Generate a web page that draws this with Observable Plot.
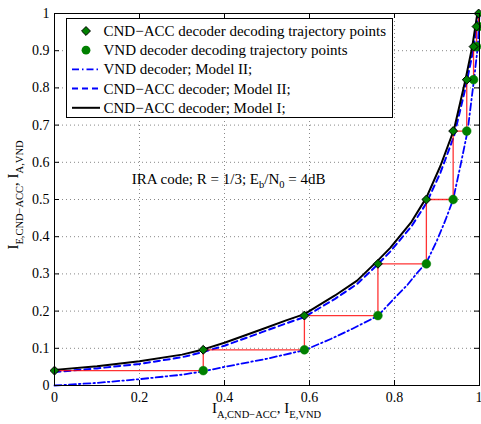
<!DOCTYPE html>
<html><head><meta charset="utf-8">
<script src="https://cdn.jsdelivr.net/npm/d3@7"></script>
<script src="https://cdn.jsdelivr.net/npm/@observablehq/plot@0.6"></script>
<style>body{margin:0;background:#fff}</style>
</head><body><div id="chart"></div>
<script>
// Tick values
const xTicks = [0, 0.2, 0.4, 0.6, 0.8, 1];
const yTicks = [0, 0.1, 0.2, 0.3, 0.4, 0.5, 0.6, 0.7, 0.8, 0.9, 1];

// Decoding trajectory: I_A,CND-ACC values and I_E,CND-ACC values per iteration
const trajIA = [0, 0.35, 0.588, 0.761, 0.875, 0.938, 0.97, 0.986, 0.993, 0.998];
const trajIE = [0.04, 0.096, 0.188, 0.327, 0.50, 0.684, 0.822, 0.911, 0.965, 1.0];

// VND decoder; Model II (dash-dot)
const vndX = [0, 0.1, 0.2, 0.3, 0.35, 0.4, 0.5, 0.588, 0.65, 0.7, 0.761, 0.8, 0.83, 0.855, 0.875, 0.9, 0.92, 0.938, 0.955, 0.972, 0.987, 0.996, 1.0];
const vndY = [0, 0.007, 0.017, 0.029, 0.038, 0.05, 0.072, 0.095, 0.125, 0.152, 0.187, 0.235, 0.27, 0.305, 0.33, 0.39, 0.445, 0.50, 0.59, 0.684, 0.822, 0.911, 1.0];

// CND-ACC decoder; Model II (dashed)
const cnd2X = [0, 0.1, 0.2, 0.3, 0.35, 0.4, 0.485, 0.545, 0.588, 0.66, 0.712, 0.76, 0.79, 0.84, 0.875, 0.908, 0.94, 0.967, 0.985, 0.998];
const cnd2Y = [0.036, 0.046, 0.058, 0.076, 0.09, 0.107, 0.142, 0.167, 0.184, 0.233, 0.273, 0.325, 0.36, 0.428, 0.49, 0.572, 0.67, 0.80, 0.90, 1.0];

// CND-ACC decoder; Model I (solid)
const cnd1X = [0, 0.1, 0.2, 0.3, 0.35, 0.4, 0.485, 0.545, 0.588, 0.66, 0.712, 0.76, 0.79, 0.84, 0.875, 0.908, 0.94, 0.967, 0.983, 0.995];
const cnd1Y = [0.042, 0.052, 0.065, 0.083, 0.097, 0.115, 0.15, 0.175, 0.192, 0.242, 0.282, 0.335, 0.37, 0.44, 0.505, 0.59, 0.688, 0.822, 0.911, 1.0];

const legendLabels = [
  "CND\u2212ACC decoder decoding trajectory points",
  "VND decoder decoding trajectory points",
  "VND decoder; Model II;",
  "CND\u2212ACC decoder; Model II;",
  "CND\u2212ACC decoder; Model I;"
];

const zip = (xs, ys) => xs.map((x, i) => ({x, y: ys[i]}));
const diamonds = zip(trajIA, trajIE);
const circles = trajIE.slice(0, -1).map((y, i) => ({x: trajIA[i + 1], y}));
const stair = [];
diamonds.forEach((d, i) => { stair.push(d); if (circles[i]) stair.push(circles[i]); });

const W = 481, H = 424, ML = 54, MR = 2, MT = 13, MB = 39;
const PW = W - ML - MR, PH = H - MT - MB;
const fmt = d => String(+d.toFixed(2));
const green = "#008000";

const plot = Plot.plot({
  width: W, height: H,
  marginLeft: ML, marginRight: MR, marginTop: MT, marginBottom: MB,
  style: {fontFamily: "'Liberation Serif', 'Times New Roman', serif", fontSize: "14px", color: "black", background: "white", overflow: "visible"},
  x: {domain: [0, 1]},
  y: {domain: [0, 1]},
  marks: [
    Plot.gridX(xTicks, {stroke: "#888", strokeOpacity: 1, strokeDasharray: "1,3"}),
    Plot.gridY(yTicks, {stroke: "#888", strokeOpacity: 1, strokeDasharray: "1,3"}),
    Plot.axisX({ticks: xTicks.slice(0, -1), tickSize: 0, tickPadding: 7, tickFormat: fmt, label: null, fontSize: 14}),
    Plot.axisX({ticks: xTicks.slice(-1), tickSize: 0, tickPadding: 7, tickFormat: fmt, label: null, fontSize: 14, textAnchor: "end", dx: 3}),
    Plot.axisY({ticks: yTicks, tickSize: 0, tickPadding: 5, tickFormat: fmt, label: null, fontSize: 14}),
    Plot.tickX(xTicks, {x: d => d, insetTop: PH - 5, stroke: "black"}),
    Plot.tickX(xTicks, {x: d => d, insetBottom: PH - 5, stroke: "black"}),
    Plot.tickY(yTicks, {y: d => d, insetRight: PW - 5, stroke: "black"}),
    Plot.tickY(yTicks, {y: d => d, insetLeft: PW - 5, stroke: "black"}),
    Plot.line(zip(vndX, vndY), {x: "x", y: "y", stroke: "#0000ff", strokeWidth: 1.8, strokeDasharray: "7,3,1.5,3", curve: "linear"}),
    Plot.line(zip(cnd2X, cnd2Y), {x: "x", y: "y", stroke: "#0000ff", strokeWidth: 2, strokeDasharray: "6,4", curve: "linear"}),
    Plot.line(zip(cnd1X, cnd1Y), {x: "x", y: "y", stroke: "black", strokeWidth: 2, curve: "linear"}),
    Plot.line(stair, {x: "x", y: "y", stroke: "#ff0000", strokeOpacity: 0.8, strokeWidth: 1.3, curve: "linear"}),
    Plot.dot(circles, {x: "x", y: "y", r: 4.4, fill: green, stroke: green, strokeWidth: 0.5}),
    Plot.dot(diamonds, {x: "x", y: "y", r: 4, symbol: "diamond2", fill: green, stroke: "black", strokeWidth: 1}),
    Plot.frame({stroke: "black", strokeWidth: 1})
  ]
});

const svg = d3.select(plot);
const sx = plot.scale("x"), sy = plot.scale("y");
const serif = "'Liberation Serif', 'Times New Roman', serif";

// Annotation
const ann = svg.append("text")
  .attr("x", sx.apply(0.183)).attr("y", sy.apply(0.54)).attr("text-anchor", "start")
  .attr("font-family", serif).attr("font-size", 15).attr("fill", "black");
ann.append("tspan").text("IRA code; R = 1/3; E");
ann.append("tspan").attr("font-size", 10.5).attr("dy", 4).text("b");
ann.append("tspan").attr("dy", -4).text("/N");
ann.append("tspan").attr("font-size", 10.5).attr("dy", 4).text("0");
ann.append("tspan").attr("dy", -4).text(" = 4dB");

// X axis label
const xl = svg.append("text")
  .attr("x", ML + PW / 2).attr("y", 413).attr("text-anchor", "middle")
  .attr("font-family", serif).attr("font-size", 15).attr("fill", "black");
xl.append("tspan").text("I");
xl.append("tspan").attr("font-size", 10.5).attr("dy", 5).text("A,CND\u2212ACC");
xl.append("tspan").attr("dy", -5).text(", I");
xl.append("tspan").attr("font-size", 10.5).attr("dy", 5).text("E,VND");

// Y axis label
const yl = svg.append("text")
  .attr("transform", `translate(18,${MT + PH / 2 - 4}) rotate(-90)`).attr("text-anchor", "middle")
  .attr("font-family", serif).attr("font-size", 15).attr("fill", "black");
yl.append("tspan").text("I");
yl.append("tspan").attr("font-size", 10.5).attr("dy", 5).text("E,CND\u2212ACC");
yl.append("tspan").attr("dy", -5).text(", I");
yl.append("tspan").attr("font-size", 10.5).attr("dy", 5).text("A,VND");

// Legend
const lg = svg.append("g");
lg.append("rect").attr("x", 66.5).attr("y", 18.5).attr("width", 326).attr("height", 99)
  .attr("fill", "white").attr("stroke", "black").attr("stroke-width", 1);
const rowY = i => 31 + i * 19.2;
legendLabels.forEach((t, i) => {
  lg.append("text").attr("x", 103.5).attr("y", rowY(i) + 5).attr("text-anchor", "start")
    .attr("font-family", serif).attr("font-size", 15).attr("fill", "black").text(t);
});
const dsym = d3.symbol(d3.symbolDiamond2, Math.PI * 16)();
lg.append("path").attr("d", dsym).attr("transform", `translate(86,${rowY(0)})`)
  .attr("fill", green).attr("stroke", "black");
lg.append("circle").attr("cx", 86).attr("cy", rowY(1)).attr("r", 4.4).attr("fill", green);
lg.append("line").attr("x1", 72).attr("x2", 100).attr("y1", rowY(2)).attr("y2", rowY(2))
  .attr("stroke", "#0000ff").attr("stroke-width", 1.8).attr("stroke-dasharray", "7,3,1.5,3");
lg.append("line").attr("x1", 72).attr("x2", 100).attr("y1", rowY(3)).attr("y2", rowY(3))
  .attr("stroke", "#0000ff").attr("stroke-width", 2).attr("stroke-dasharray", "6,4");
lg.append("line").attr("x1", 72).attr("x2", 100).attr("y1", rowY(4)).attr("y2", rowY(4))
  .attr("stroke", "black").attr("stroke-width", 2);

document.getElementById("chart").appendChild(plot);
</script>
</body></html>
